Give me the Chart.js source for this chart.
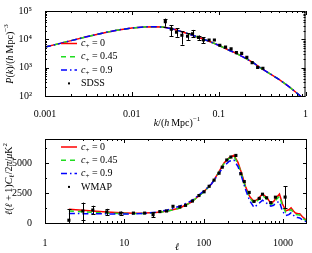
<!DOCTYPE html>
<html>
<head>
<meta charset="utf-8">
<script src="https://cdn.jsdelivr.net/npm/chart.js@4.4.1/dist/chart.umd.min.js"></script>
<style>
  html, body { margin: 0; padding: 0; background: #fff; }
  canvas { display: block; }
</style>
</head>
<body>
<canvas id="pkChart" width="312" height="128"></canvas>
<canvas id="clChart" width="312" height="125"></canvas>
<script>
// ---- top panel: matter power spectrum ----
const kGrid = [0.001, 0.0015, 0.002, 0.003, 0.005, 0.007, 0.01, 0.014, 0.018, 0.023, 0.03, 0.04, 0.05, 0.065, 0.08, 0.1, 0.13, 0.16, 0.2, 0.25, 0.3, 0.4, 0.5, 0.65, 0.8, 1.0];
const pkModel = [5300, 7200, 9000, 12300, 17500, 21500, 25000, 27500, 28000, 27000, 23000, 17500, 14000, 10500, 8200, 6200, 4200, 3200, 2200, 1500, 1000, 580, 380, 210, 125, 70];
const sdssK = [0.0243, 0.0285, 0.0327, 0.0377, 0.0438, 0.050, 0.0586, 0.0668, 0.0776, 0.0893, 0.103, 0.12, 0.139, 0.16, 0.184, 0.211, 0.243, 0.281, 0.323];
const sdssP = [42000, 23000, 18000, 13900, 12900, 15800, 11700, 9500, 9500, 9500, 6200, 5300, 4600, 3400, 3200, 2300, 1500, 1020, 955];
const sdssLo = [28000, 12900, 12300, 6500, 9600, 11700, 9600, 7400, 8600, 8700, 5700, 4900, 4250, 3150, 2950, 2100, 1380, 940, 880];
const sdssHi = [54000, 32000, 25000, 19500, 16600, 21500, 13600, 11700, 10400, 10400, 6700, 5700, 4950, 3650, 3450, 2500, 1620, 1100, 1030];
const kTicks = [0.001, 0.01, 0.1, 1];
const kTickLabels = ['0.001', '0.01', '0.1', '1'];
const pkTicks = [100, 1000, 10000, 100000];
const pkTickLabels = ['10\u00b2', '10\u00b3', '10\u2074', '10\u2075'];

// ---- bottom panel: CMB spectrum ----
const ellGrid = [2, 3, 4, 6, 9, 13, 18, 25, 35, 50, 70, 100, 125, 150, 180, 210, 240, 270, 300, 340, 380, 430, 480, 550, 620, 700, 760, 820, 900, 980, 1080, 1180, 1260, 1350, 1430, 1520, 1620, 1750, 1900, 2000];
const clC0 = [1140, 1060, 1000, 920, 850, 820, 830, 880, 1000, 1250, 1750, 2600, 3250, 4100, 5000, 5450, 5650, 5050, 4150, 2950, 2200, 1780, 2000, 2420, 2150, 1650, 1800, 2100, 2420, 1600, 1020, 1100, 1260, 1000, 830, 800, 780, 520, 330, 250];
const clC045 = [1010, 940, 890, 830, 790, 780, 800, 860, 990, 1240, 1740, 2580, 3230, 4070, 4950, 5400, 5550, 4950, 4050, 2850, 2100, 1640, 1880, 2280, 2000, 1540, 1650, 1950, 2230, 1450, 880, 950, 1120, 880, 700, 680, 660, 420, 240, 180];
const clC09 = [800, 780, 770, 760, 750, 760, 800, 900, 1080, 1400, 1850, 2650, 3250, 4000, 4750, 5150, 5250, 4700, 3850, 2700, 1850, 1300, 1550, 1900, 1650, 1400, 1480, 1700, 1780, 1000, 620, 700, 850, 650, 480, 450, 420, 260, 140, 100];
const wmapL = [2, 3, 4, 6, 9, 13, 18, 23, 28, 34, 41, 50, 59, 72, 87, 101, 117, 135, 156, 171, 195, 220, 254, 293, 324, 374, 430, 500, 550, 620, 700, 800, 1060];
const wmapV = [230, 1000, 1080, 925, 825, 825, 825, 695, 950, 1000, 1390, 1340, 1470, 1830, 2290, 2600, 3060, 3570, 4150, 4650, 5250, 5500, 5630, 4100, 3450, 2550, 1800, 2050, 2400, 2100, 1700, 2150, 2160];
const wmapLo = [0, 230, 750, 670, 700, 730, 740, 500, 870, 920, 1300, 1260, 1390, 1750, 2210, 2520, 2980, 3490, 4070, 4570, 5170, 5420, 5550, 4020, 3370, 2470, 1720, 1970, 2320, 2000, 1600, 2030, 1260];
const wmapHi = [1150, 1700, 1440, 1180, 950, 920, 910, 880, 1030, 1080, 1480, 1420, 1550, 1910, 2370, 2680, 3140, 3650, 4230, 4730, 5330, 5580, 5710, 4180, 3530, 2630, 1880, 2130, 2480, 2200, 1800, 2270, 3060];
const ellTicks = [1, 10, 100, 1000];
const ellTickLabels = ['1', '10', '100', '1000'];
const clTicks = [0, 2500, 5000];
const clTickLabels = ['0', '2500', '5000'];

const serif = '"Liberation Serif", "DejaVu Serif", serif';
const tickFont = { family: serif, size: 10 };
const RED = '#ff0000', GREEN = '#1fdc1f', BLUE = '#0000ff';

function pts(xs, ys) {
  return xs.map((x, i) => ({ x: x, y: ys[i] }));
}

// text with italic / superscript / subscript pieces
function richText(ctx, parts, x, y, rot) {
  const fontFor = k => (k === 'i' ? 'italic ' : '') + (k === 'sup' || k === 'sub' ? '7px ' : '10px ') + serif;
  let w = 0;
  parts.forEach(([t, k]) => { ctx.font = fontFor(k); w += ctx.measureText(t).width; });
  ctx.save();
  ctx.translate(x, y);
  if (rot) ctx.rotate(rot);
  ctx.fillStyle = '#000';
  ctx.textAlign = 'left';
  ctx.textBaseline = 'middle';
  let cx = -w / 2;
  parts.forEach(([t, k]) => {
    ctx.font = fontFor(k);
    const dy = k === 'sup' ? -4 : (k === 'sub' ? 3 : 0);
    ctx.fillText(t, cx, dy);
    cx += ctx.measureText(t).width;
  });
  ctx.restore();
}

function logMinors(from, to, max) {
  const out = [];
  for (let d = from; d < to; d *= 10) {
    for (let m = 2; m <= 9; m++) if (d * m <= max) out.push(d * m);
  }
  return out;
}

// frame with inward ticks on all four sides, axis titles, legend
const decor = {
  id: 'decor',
  afterDraw(chart, args, o) {
    const ctx = chart.ctx, a = chart.chartArea;
    const x = chart.scales.x, y = chart.scales.y;
    ctx.save();
    ctx.strokeStyle = '#000';
    ctx.lineWidth = 1;
    ctx.beginPath();
    const vt = (v, len) => {
      const px = Math.round(x.getPixelForValue(v)) + 0.5;
      ctx.moveTo(px, a.bottom); ctx.lineTo(px, a.bottom - len);
      ctx.moveTo(px, a.top); ctx.lineTo(px, a.top + len);
    };
    const ht = (v, len) => {
      const py = Math.round(y.getPixelForValue(v)) + 0.5;
      ctx.moveTo(a.left, py); ctx.lineTo(a.left + len, py);
      ctx.moveTo(a.right, py); ctx.lineTo(a.right - len, py);
    };
    o.xMajor.forEach(v => vt(v, 4));
    o.xMinor.forEach(v => vt(v, 2));
    o.yMajor.forEach(v => ht(v, 4));
    o.yMinor.forEach(v => ht(v, 2));
    ctx.stroke();
    ctx.strokeRect(a.left + 0.5, a.top + 0.5, a.right - a.left - 1, a.bottom - a.top);
    ctx.restore();

    richText(ctx, o.yTitle, o.yTitlePos[0], o.yTitlePos[1], -Math.PI / 2);
    richText(ctx, o.xTitle, o.xTitlePos[0], o.xTitlePos[1], 0);

    // legend
    o.legend.forEach((item, i) => {
      const ly = o.legendTop + i * 13.3;
      const ds = chart.data.datasets[item.ds];
      ctx.save();
      if (ds.showLine) {
        ctx.strokeStyle = ds.borderColor;
        ctx.lineWidth = 1.5;
        ctx.setLineDash(ds.borderDash || []);
        ctx.beginPath();
        ctx.moveTo(61, ly); ctx.lineTo(77, ly);
        ctx.stroke();
      } else {
        ctx.fillStyle = '#000';
        ctx.fillRect(68, ly - 1, 2, 2);
      }
      ctx.restore();
      ctx.save();
      ctx.fillStyle = '#000';
      ctx.textBaseline = 'middle';
      ctx.textAlign = 'left';
      if (item.c !== undefined) {
        ctx.font = 'italic 10px ' + serif;
        ctx.fillText('c', 81, ly);
        let cx = 81 + ctx.measureText('c').width;
        ctx.font = '7px ' + serif;
        ctx.fillText('+', cx, ly + 3);
        cx += ctx.measureText('+').width;
        ctx.font = '10px ' + serif;
        ctx.fillText(' = ' + item.c, cx, ly);
      } else {
        ctx.font = '10px ' + serif;
        ctx.fillText(item.text, 81, ly);
      }
      ctx.restore();
    });
  }
};

function errorBars(dsIndex, lo, hi) {
  return {
    id: 'errorBars',
    afterDatasetsDraw(chart) {
      const ctx = chart.ctx, x = chart.scales.x, y = chart.scales.y, a = chart.chartArea;
      const data = chart.data.datasets[dsIndex].data;
      ctx.save();
      ctx.beginPath();
      ctx.rect(a.left, a.top, a.right - a.left, a.bottom - a.top);
      ctx.clip();
      ctx.strokeStyle = '#000';
      ctx.lineWidth = 1;
      ctx.beginPath();
      data.forEach((p, i) => {
        const px = Math.round(x.getPixelForValue(p.x)) + 0.5;
        const y1 = y.getPixelForValue(lo[i]), y2 = y.getPixelForValue(hi[i]);
        if (Math.abs(y1 - y2) < 3) return;
        ctx.moveTo(px, y1); ctx.lineTo(px, y2);
        ctx.moveTo(px - 2, Math.round(y1) + 0.5); ctx.lineTo(px + 2, Math.round(y1) + 0.5);
        ctx.moveTo(px - 2, Math.round(y2) + 0.5); ctx.lineTo(px + 2, Math.round(y2) + 0.5);
      });
      ctx.stroke();
      ctx.restore();
    }
  };
}

function curve(label, xs, ys, color, dash, order) {
  return {
    label: label, data: pts(xs, ys), showLine: true, borderColor: color,
    backgroundColor: color, borderWidth: 1.5, borderDash: dash, pointRadius: 0, order: order
  };
}

function axis(kind, ticks, labels, fit, pad, extra) {
  const s = {
    type: kind,
    grid: { display: false },
    border: { display: false },
    afterBuildTicks: sc => { sc.ticks = ticks.map(v => ({ value: v })); },
    afterFit: fit,
    ticks: {
      color: '#000', font: tickFont, padding: pad, maxRotation: 0, autoSkip: false,
      callback: (v, i) => labels[i]
    }
  };
  return Object.assign(s, extra);
}

new Chart(document.getElementById('pkChart'), {
  type: 'scatter',
  data: {
    datasets: [
      { label: 'SDSS', data: pts(sdssK, sdssP), pointStyle: 'rect', pointRadius: 2.2, borderWidth: 0, backgroundColor: '#000', order: 0 },
      curve('c+ = 0.9', kGrid, pkModel, BLUE, [6, 3, 1.5, 3], 1),
      curve('c+ = 0.45', kGrid, pkModel, GREEN, [5, 4], 2),
      curve('c+ = 0', kGrid, pkModel, RED, [], 3)
    ]
  },
  options: {
    responsive: false,
    animation: false,
    layout: { padding: { top: 6, right: 5, left: 0, bottom: 0 } },
    plugins: {
      legend: { display: false },
      tooltip: { enabled: false },
      decor: {
        xMajor: kTicks, xMinor: logMinors(0.001, 1, 1),
        yMajor: pkTicks, yMinor: logMinors(100, 100000, 100000),
        yTitle: [['P', 'i'], ['(', 'r'], ['k', 'i'], [')/(', 'r'], ['h', 'i'], ['\u2009Mpc)', 'r'], ['\u22123', 'sup']],
        yTitlePos: [10, 54],
        xTitle: [['k', 'i'], ['/(', 'r'], ['h', 'i'], ['\u2009Mpc)', 'r'], ['\u22121', 'sup']],
        xTitlePos: [177, 123],
        legendTop: 43.5,
        legend: [{ ds: 3, c: '0' }, { ds: 2, c: '0.45' }, { ds: 1, c: '0.9' }, { ds: 0, text: 'SDSS' }]
      }
    },
    scales: {
      x: axis('logarithmic', kTicks, kTickLabels, sc => { sc.height = 32; }, 4, { min: 0.001, max: 1 }),
      y: axis('logarithmic', pkTicks, pkTickLabels, sc => { sc.width = 45; }, 5, { min: 100, max: 100000 })
    }
  },
  plugins: [errorBars(0, sdssLo, sdssHi), decor]
});

new Chart(document.getElementById('clChart'), {
  type: 'scatter',
  data: {
    datasets: [
      { label: 'WMAP', data: pts(wmapL, wmapV), pointStyle: 'rect', pointRadius: 2.2, borderWidth: 0, backgroundColor: '#000', order: 0 },
      curve('c+ = 0.9', ellGrid, clC09, BLUE, [6, 3, 1.5, 3], 1),
      curve('c+ = 0.45', ellGrid, clC045, GREEN, [5, 4], 2),
      curve('c+ = 0', ellGrid, clC0, RED, [], 3)
    ]
  },
  options: {
    responsive: false,
    animation: false,
    layout: { padding: { top: 5, right: 5, left: 0, bottom: 0 } },
    plugins: {
      legend: { display: false },
      tooltip: { enabled: false },
      decor: {
        xMajor: ellTicks, xMinor: logMinors(1, 1000, 2000),
        yMajor: clTicks, yMinor: [1250, 3750, 6250],
        yTitle: [['\u2113', 'i'], ['(', 'r'], ['\u2113', 'i'], [' + 1)', 'r'], ['C', 'i'], ['\u2113', 'sub'], ['/2', 'r'], ['\u03c0', 'i'], ['/', 'r'], ['\u03bc', 'i'], ['K', 'r'], ['2', 'sup']],
        yTitlePos: [9, 51],
        xTitle: [['\u2113', 'i']],
        xTitlePos: [177, 119],
        legendTop: 19,
        legend: [{ ds: 3, c: '0' }, { ds: 2, c: '0.45' }, { ds: 1, c: '0.9' }, { ds: 0, text: 'WMAP' }]
      }
    },
    scales: {
      x: axis('logarithmic', ellTicks, ellTickLabels, sc => { sc.height = 30; }, 6, { min: 1, max: 2000 }),
      y: axis('linear', clTicks, clTickLabels, sc => { sc.width = 45; }, 5, { min: 0, max: 7000 })
    }
  },
  plugins: [errorBars(0, wmapLo, wmapHi), decor]
});
</script>
</body>
</html>
